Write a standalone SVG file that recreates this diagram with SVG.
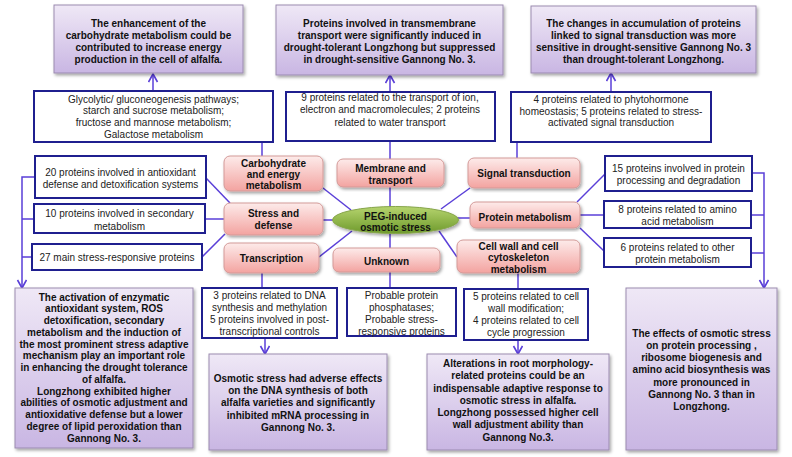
<svg xmlns="http://www.w3.org/2000/svg" width="792" height="457" viewBox="0 0 792 457">
<defs>
<linearGradient id="gPurple" x1="0" y1="0" x2="0" y2="1">
<stop offset="0" stop-color="#efe8f6"/><stop offset="1" stop-color="#c9b6e3"/>
</linearGradient>
<linearGradient id="gPink" x1="0" y1="0" x2="0" y2="1">
<stop offset="0" stop-color="#fdebea"/><stop offset="1" stop-color="#f3a3a0"/>
</linearGradient>
<linearGradient id="gGreen" x1="0" y1="0" x2="0" y2="1">
<stop offset="0" stop-color="#b6d46e"/><stop offset="1" stop-color="#6e9a2c"/>
</linearGradient>
<filter id="sh" x="-10%" y="-10%" width="125%" height="125%">
<feDropShadow dx="1.5" dy="2" stdDeviation="1.5" flood-color="#000" flood-opacity="0.35"/>
</filter>
<marker id="arr" markerUnits="userSpaceOnUse" markerWidth="12" markerHeight="12" refX="9" refY="5" orient="auto">
<path d="M1,0.5 L9,5 L1,9.5" fill="none" stroke="#5a3fd8" stroke-width="1.6"/>
</marker>
<style>
.con{fill:none;stroke:#5a3fd8;stroke-width:1.5}
.blue rect{fill:#fff;stroke:#1f1f8f;stroke-width:2}
.purp rect{fill:url(#gPurple);stroke:#9b8bb0;stroke-width:1;filter:url(#sh)}
.pink rect{fill:url(#gPink);stroke:#d39a98;stroke-width:1;filter:url(#sh)}
text{font-family:"Liberation Sans",Arial,sans-serif;font-size:10px;fill:#222;text-anchor:middle}
.purp text,.pink text,.ell text{font-weight:bold;fill:#111}
</style>
</defs>
<rect width="792" height="457" fill="#fff"/>

<g id="connectors">
<path class="con" marker-end="url(#arr)" d="M153,91 V74"/>
<path class="con" marker-end="url(#arr)" d="M390,92 V75"/>
<path class="con" marker-end="url(#arr)" d="M611,92 V73"/>
<path class="con" d="M262,142 V156"/>
<path class="con" d="M390,141 V159"/>
<path class="con" d="M517,142 V158"/>
<path class="con" d="M390,187 V207"/>
<path class="con" d="M390,233 V248"/>
<path class="con" d="M323,188 L351,210"/>
<path class="con" d="M323,220 H333"/>
<path class="con" d="M319,257 L352,231"/>
<path class="con" d="M470,188 L441,209"/>
<path class="con" d="M457,218 H470"/>
<path class="con" d="M439,231 L457,257"/>
<path class="con" d="M206,178 L230,203"/>
<path class="con" d="M205,219 H224"/>
<path class="con" d="M202,257 L225,234"/>
<path class="con" d="M577,202 L605,174"/>
<path class="con" d="M580,215 H604"/>
<path class="con" d="M580,228 L604,251"/>
<path class="con" marker-end="url(#arr)" d="M35,177 H22 V288"/>
<path class="con" d="M34,219 H22 M32,257 H22"/>
<path class="con" marker-end="url(#arr)" d="M752,173 H764 V288"/>
<path class="con" d="M751,215 H764 M751,253 H764"/>
<path class="con" d="M262,273 V288"/>
<path class="con" d="M390,272 V288"/>
<path class="con" d="M518,273 V289"/>
<path class="con" marker-end="url(#arr)" d="M265,338 V354"/>
<path class="con" marker-end="url(#arr)" d="M518,340 V354"/>
</g>

<g id="concl-carb" class="purp">
<rect x="54" y="5" width="189" height="68"/>
<text x="148.5" y="26.5">The enhancement of the</text>
<text x="148.5" y="38.5">carbohydrate metabolism could be</text>
<text x="148.5" y="50.5">contributed to increase energy</text>
<text x="148.5" y="62.5">production in the cell of alfalfa.</text>
</g>
<g id="concl-membrane" class="purp">
<rect x="276" y="5" width="227" height="70"/>
<text x="389.5" y="26.5">Proteins involved in transmembrane</text>
<text x="389.5" y="38.5">transport were significantly induced in</text>
<text x="389.5" y="50.5">drought-tolerant Longzhong but suppressed</text>
<text x="389.5" y="63">in drought-sensitive Gannong No. 3.</text>
</g>
<g id="concl-signal" class="purp">
<rect x="531" y="6" width="225" height="67"/>
<text x="643.5" y="26.5">The changes in accumulation of proteins</text>
<text x="643.5" y="38.5">linked to signal transduction was more</text>
<text x="643.5" y="50.5">sensitive in drought-sensitive Gannong No. 3</text>
<text x="643.5" y="63">than drought-tolerant Longzhong.</text>
</g>

<g id="det-carb" class="blue">
<rect x="34" y="91" width="239" height="51"/>
<text x="153.5" y="102.5">Glycolytic/ gluconeogenesis pathways;</text>
<text x="153.5" y="114">starch and sucrose metabolism;</text>
<text x="153.5" y="125.5">fructose and mannose metabolism;</text>
<text x="153.5" y="137.5">Galactose metabolism</text>
</g>
<g id="det-membrane" class="blue">
<rect x="286" y="92" width="209" height="49"/>
<text x="390" y="100.5">9 proteins related to the transport of ion,</text>
<text x="390" y="113">electron and macromolecules; 2 proteins</text>
<text x="390" y="125.5">related to water transport</text>
</g>
<g id="det-signal" class="blue">
<rect x="511" y="92" width="200" height="50"/>
<text x="611" y="103">4 proteins related to phytohormone</text>
<text x="611" y="114.5">homeostasis; 5 proteins related to stress-</text>
<text x="611" y="126">activated signal transduction</text>
</g>

<g id="cat-carb" class="pink">
<rect x="224" y="156" width="99" height="35" rx="6"/>
<text x="273.5" y="166.5">Carbohydrate</text>
<text x="273.5" y="177.5">and energy</text>
<text x="273.5" y="189">metabolism</text>
</g>
<g id="cat-membrane" class="pink">
<rect x="337" y="159" width="107" height="28" rx="6"/>
<text x="390.5" y="171.5">Membrane and</text>
<text x="390.5" y="184">transport</text>
</g>
<g id="cat-signal" class="pink">
<rect x="468" y="158" width="112" height="30" rx="6"/>
<text x="524" y="176.5">Signal transduction</text>
</g>
<g id="cat-stress" class="pink">
<rect x="224" y="203" width="99" height="32" rx="6"/>
<text x="273.5" y="216.5">Stress and</text>
<text x="273.5" y="228.5">defense</text>
</g>
<g id="cat-protein" class="pink">
<rect x="470" y="202" width="110" height="26" rx="6"/>
<text x="525" y="220.5">Protein metabolism</text>
</g>
<g id="cat-transcription" class="pink">
<rect x="224" y="243" width="95" height="30" rx="6"/>
<text x="271.5" y="261.5">Transcription</text>
</g>
<g id="cat-unknown" class="pink">
<rect x="333" y="248" width="107" height="24" rx="6"/>
<text x="386.5" y="264.5">Unknown</text>
</g>
<g id="cat-cellwall" class="pink">
<rect x="457" y="240" width="123" height="33" rx="6"/>
<text x="518.5" y="249.5">Cell wall and cell</text>
<text x="518.5" y="260.5">cytoskeleton</text>
<text x="518.5" y="272.5">metabolism</text>
</g>

<g id="center" class="ell">
<ellipse cx="395.5" cy="220" rx="63" ry="13.5" fill="url(#gGreen)" stroke="#86a54a" stroke-width="1" filter="url(#sh)"/>
<text x="395.5" y="219.5">PEG-induced</text>
<text x="395.5" y="231">osmotic stress</text>
</g>

<g id="det-antiox" class="blue">
<rect x="35" y="156" width="171" height="42"/>
<text x="120.5" y="175.5">20 proteins involved in antioxidant</text>
<text x="120.5" y="187.5">defense and detoxification systems</text>
</g>
<g id="det-secondary" class="blue">
<rect x="34" y="204" width="171" height="29"/>
<text x="119.5" y="217">10 proteins involved in secondary</text>
<text x="119.5" y="229.5">metabolism</text>
</g>
<g id="det-stressresp" class="blue">
<rect x="32" y="244" width="170" height="26"/>
<text x="117" y="260.5">27 main stress-responsive proteins</text>
</g>

<g id="det-processing" class="blue">
<rect x="605" y="156" width="147" height="35"/>
<text x="678.5" y="171.5">15 proteins involved in protein</text>
<text x="678.5" y="183.5">processing and degradation</text>
</g>
<g id="det-amino" class="blue">
<rect x="604" y="201" width="147" height="27"/>
<text x="677.5" y="212.5">8 proteins related to amino</text>
<text x="677.5" y="224.5">acid metabolism</text>
</g>
<g id="det-otherprot" class="blue">
<rect x="604" y="238" width="147" height="29"/>
<text x="677.5" y="250.5">6 proteins related to other</text>
<text x="677.5" y="262.5">protein metabolism</text>
</g>

<g id="det-dna" class="blue">
<rect x="202" y="288" width="135" height="50"/>
<text x="269.5" y="298.5">3 proteins related to DNA</text>
<text x="269.5" y="310.5">synthesis and methylation</text>
<text x="269.5" y="322.5">5 proteins involved in post-</text>
<text x="269.5" y="335">transcriptional controls</text>
</g>
<g id="det-unknown" class="blue">
<rect x="347" y="288" width="109" height="48"/>
<text x="401.5" y="298.5">Probable protein</text>
<text x="401.5" y="310.5">phosphatases;</text>
<text x="401.5" y="322.5">Probable stress-</text>
<text x="401.5" y="335">responsive proteins</text>
</g>
<g id="det-cellwall" class="blue">
<rect x="464" y="289" width="124" height="51"/>
<text x="526" y="299.5">5 proteins related to cell</text>
<text x="526" y="311.5">wall modification;</text>
<text x="526" y="323.5">4 proteins related to cell</text>
<text x="526" y="335.5">cycle progression</text>
</g>

<g id="concl-stress" class="purp">
<rect x="15" y="288" width="178" height="160"/>
<text x="104" y="300.5">The activation of enzymatic</text>
<text x="104" y="312.25">antioxidant system, ROS</text>
<text x="104" y="324">detoxification, secondary</text>
<text x="104" y="335.75">metabolism and the induction of</text>
<text x="104" y="347.5">the most prominent stress adaptive</text>
<text x="104" y="359.25">mechanism play an important role</text>
<text x="104" y="371">in enhancing the drought tolerance</text>
<text x="104" y="382.75">of alfalfa.</text>
<text x="104" y="394.5">Longzhong exhibited higher</text>
<text x="104" y="406.25">abilities of osmotic adjustment and</text>
<text x="104" y="418">antioxidative defense but a lower</text>
<text x="104" y="429.75">degree of lipid peroxidation than</text>
<text x="104" y="441.5">Gannong No. 3.</text>
</g>
<g id="concl-transcription" class="purp">
<rect x="209" y="354" width="178" height="96"/>
<text x="298" y="381.5">Osmotic stress had adverse effects</text>
<text x="298" y="393.5">on the DNA synthesis of both</text>
<text x="298" y="406">alfalfa varieties and significantly</text>
<text x="298" y="418.5">inhibited mRNA processing in</text>
<text x="298" y="430.5">Gannong No. 3.</text>
</g>
<g id="concl-cellwall" class="purp">
<rect x="427" y="354" width="182" height="96"/>
<text x="518" y="366.5">Alterations in root morphology-</text>
<text x="518" y="379">related proteins could be an</text>
<text x="518" y="391.5">indispensable adaptive response to</text>
<text x="518" y="403.5">osmotic stress in alfalfa.</text>
<text x="518" y="416">Longzhong possessed higher cell</text>
<text x="518" y="428">wall adjustment ability than</text>
<text x="518" y="440.5">Gannong No.3.</text>
</g>
<g id="concl-protein" class="purp">
<rect x="626" y="288" width="151" height="162"/>
<text x="701.5" y="336.5">The effects of osmotic stress</text>
<text x="701.5" y="349">on protein processing ,</text>
<text x="701.5" y="361">ribosome biogenesis and</text>
<text x="701.5" y="373">amino acid biosynthesis was</text>
<text x="701.5" y="385.5">more pronounced in</text>
<text x="701.5" y="397.5">Gannong No. 3 than in</text>
<text x="701.5" y="410">Longzhong.</text>
</g>
</svg>
